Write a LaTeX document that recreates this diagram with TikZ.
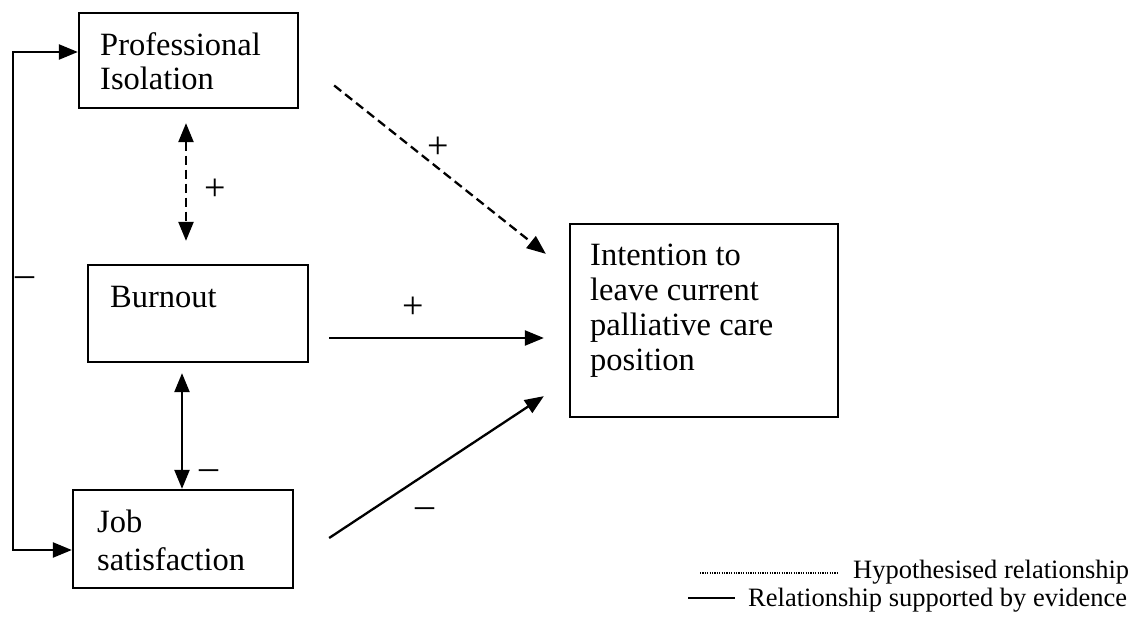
\documentclass[tikz,border=0pt]{standalone}
\usepackage{fontspec}
\setmainfont{Liberation Serif}
\usetikzlibrary{arrows.meta,calc}
\begin{document}
\begin{tikzpicture}[x=1pt,y=-1pt,
  box/.style={draw,line width=2.3pt,inner sep=0pt},
  lbl/.style={anchor=base west,inner sep=0pt,align=left,font=\fontsize{32.5}{34}\selectfont},
  sign/.style={inner sep=0pt,font=\fontsize{38}{38}\selectfont},
  tip/.style={},
  conn/.style={line width=2.3pt,-{Triangle[length=19pt,width=15pt]}},
  dconn/.style={line width=2.3pt,{Triangle[length=19pt,width=15pt]}-{Triangle[length=19pt,width=15pt]}},
  hyp/.style={dash pattern=on 9pt off 5pt},
  legtext/.style={anchor=west,inner sep=0pt,font=\fontsize{26.5}{28}\selectfont}]
\useasboundingbox (0,0) rectangle (1143,631);
% boxes
\node[box,minimum width=219pt,minimum height=95pt] (prof) at (188.5,60.5) {};
\node[box,minimum width=220pt,minimum height=97pt] (burn) at (198,313.5) {};
\node[box,minimum width=220pt,minimum height=98pt] (job) at (183,539) {};
\node[box,minimum width=268pt,minimum height=193pt] (int) at (704,320.5) {};
% texts (base anchor = baseline of the last line)
\node[lbl] (proft) at (100,90) {Professional\\Isolation};
\node[lbl] (burnt) at (110,307) {Burnout};
\node[lbl,font=\fontsize{32.5}{38}\selectfont] (jobt) at (97,570) {Job\\satisfaction};
\node[lbl,font=\fontsize{32.5}{35}\selectfont] (intt) at (590,370) {Intention to\\leave current\\palliative care\\position};
% connectors
\draw[dconn,hyp] ($(prof.south)+(-2.5,14)$) coordinate (pbtop) -- ($(burn.north)+(-12,-23)$) coordinate (pbbot);
\draw[dconn] ($(burn.south)+(-16,10)$) coordinate (bjtop) -- ($(job.north)+(-1,0)$);
\draw[conn,hyp] ($(prof.east)+(35,25)$) coordinate (pistart) -- ($(int.north west)+(-23,31)$);
\draw[conn] ($(burn.east)+(20,24.5)$) coordinate (bistart) -- ($(int.west)+(-25,17.5)$);
\draw[conn] ($(job.east)+(35,-1)$) coordinate (jistart) -- ($(int.south west)+(-25,-22)$);
\coordinate (loopx) at (13,0);
\draw[dconn] (job.west |- 0,550) -- (loopx |- 0,550) -- (loopx |- 0,52) -- (prof.west |- 0,52);
% signs
\node[sign] (s1) at (438,148) {+};
\node[sign] (s2) at (413,308) {+};
\node[sign] (s3) at (215,190) {+};
\node[sign] (s4) at (25,282) {–};
\node[sign] (s5) at (209,475) {–};
\node[sign] (s6) at (425,513) {–};
% legend
\node[legtext] (lh) at (853,572) {Hypothesised relationship};
\node[legtext] (ls) at (748,600) {Relationship supported by evidence};
\coordinate (lhs) at (700,573);
\coordinate (lss) at (688,598);
\draw[line width=1.2pt,dash pattern=on 1.2pt off 1.2pt] (lhs) -- (lhs -| 837,0);
\draw[line width=1.7pt] (lss) -- (lss -| 735,0);
\end{tikzpicture}
\end{document}
